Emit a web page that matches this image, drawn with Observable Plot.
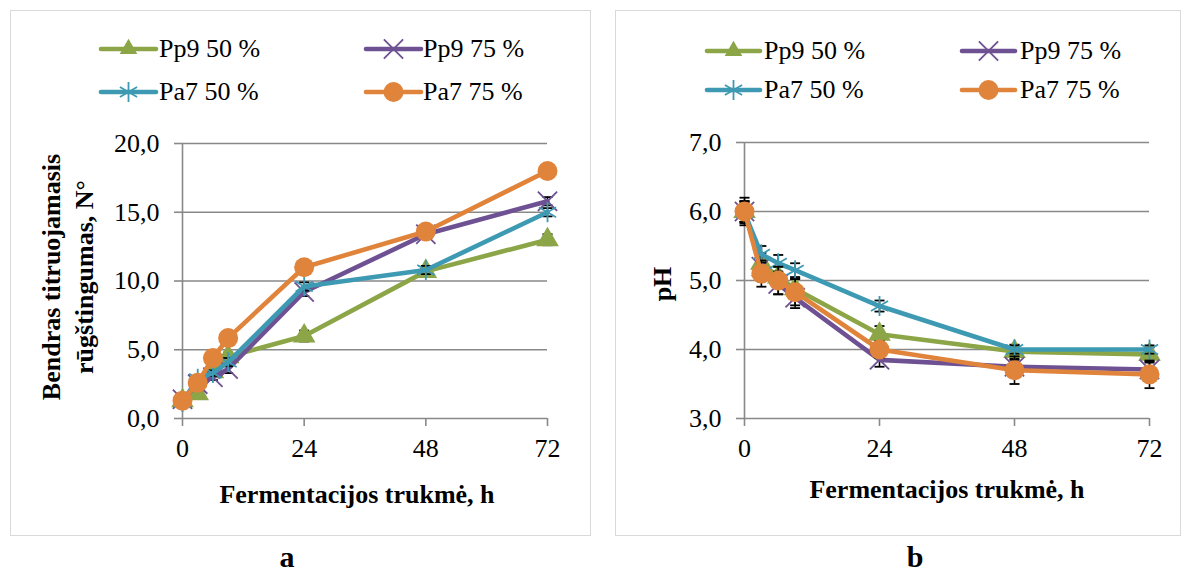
<!DOCTYPE html>
<html><head><meta charset="utf-8">
<script src="https://cdn.jsdelivr.net/npm/d3@7"></script>
<script src="https://cdn.jsdelivr.net/npm/@observablehq/plot@0.6"></script>
<style>
body{margin:0;background:#fff;font-family:"Liberation Serif","Times New Roman",serif;}
#page{position:relative;width:1183px;height:573px;overflow:hidden;background:#fff;}
.box{position:absolute;border:1.5px solid #d9d9d9;box-sizing:border-box;}
.leg{position:absolute;font-family:"Liberation Serif",serif;font-size:26px;height:30px;line-height:30px;white-space:nowrap;color:#000;}
.title{position:absolute;font-family:"Liberation Serif",serif;font-weight:bold;font-size:26px;white-space:nowrap;color:#000;transform:translate(-50%,-50%);text-align:center;line-height:33px;}
.cap{position:absolute;font-family:"Liberation Serif",serif;font-weight:bold;font-size:30px;line-height:26px;height:26px;transform:translate(-50%,-50%);color:#000;}
</style></head><body><div id="page"></div>
<script>
// ---- data ----
const hours = [0, 3, 6, 9, 24, 48, 72];
const seriesNames = ["Pp9 50 %", "Pp9 75 %", "Pa7 50 %", "Pa7 75 %"];
const seriesColors = ["#8BA547", "#6E5192", "#3E9AB3", "#E0843C"];
const seriesSymbols = ["triangle", "times", "asterisk", "circle"];

// (a) total titratable acidity, N°
const acidPp9_50 = [1.3, 1.8, 3.4, 4.5, 6.0, 10.7, 13.0];
const acidPp9_75 = [1.4, 2.5, 3.0, 3.6, 9.2, 13.4, 15.8];
const acidPa7_50 = [1.2, 2.9, 3.3, 4.1, 9.6, 10.8, 15.0];
const acidPa7_75 = [1.3, 2.6, 4.4, 5.85, 11.0, 13.6, 18.0];
const acidErrPp9_50 = [0.1, 0.2, 0.3, 0.3, 0.4, 0.3, 0.4];
const acidErrPp9_75 = [0.1, 0.2, 0.2, 0.3, 0.3, 0.3, 0.3];
const acidErrPa7_50 = [0.1, 0.2, 0.2, 0.3, 0.3, 0.3, 0.3];
const acidErrPa7_75 = [0.1, 0.2, 0.2, 0.3, 0.3, 0.3, 0.3];

// (b) pH
const phPp9_50 = [6.0, 5.25, 5.05, 4.88, 4.22, 3.97, 3.93];
const phPp9_75 = [6.0, 5.2, 4.95, 4.75, 3.85, 3.75, 3.71];
const phPa7_50 = [5.98, 5.38, 5.25, 5.15, 4.63, 4.0, 4.0];
const phPa7_75 = [6.0, 5.1, 5.0, 4.83, 4.0, 3.7, 3.64];
const phErrPp9_50 = [0.15, 0.15, 0.15, 0.15, 0.12, 0.1, 0.1];
const phErrPp9_75 = [0.15, 0.15, 0.15, 0.15, 0.1, 0.1, 0.1];
const phErrPa7_50 = [0.15, 0.12, 0.12, 0.1, 0.08, 0.06, 0.06];
const phErrPa7_75 = [0.2, 0.19, 0.2, 0.19, 0.12, 0.2, 0.2];

const xTicks = [0, 24, 48, 72];
const acidYTicks = [0, 5, 10, 15, 20];
const phYTicks = [3, 4, 5, 6, 7];

const xTitle = "Fermentacijos trukmė, h";
const acidYTitle = ["Bendras titruojamasis", "rūgštingumas, N°"];
const phYTitle = ["pH"];
const panelLetters = ["a", "b"];

// ---- helpers ----
const page = document.getElementById("page");
const fmtComma = d => d.toFixed(1).replace(".", ",");
const GRID = "#898989";
const symbolSize = {triangle: 8.4, times: 8.8, asterisk: 9.4, circle: 10};
const capSymbol = {draw(ctx) { ctx.moveTo(-5, 0); ctx.lineTo(5, 0); }};

function table(valueArrays, errArrays) {
  const rows = [];
  valueArrays.forEach((vals, s) => {
    vals.forEach((v, i) => rows.push({series: seriesNames[s], idx: s, t: hours[i], v, e: errArrays[s][i]}));
  });
  return rows;
}

function makeChart(rows, opts) {
  const marks = [
    Plot.gridY(opts.yTicks, {stroke: GRID, strokeOpacity: 1, strokeWidth: 1.6}),
    Plot.ruleX([0], {stroke: GRID, strokeWidth: 1.6}),
    Plot.axisY(opts.yTicks, {tickFormat: fmtComma, tickSize: 8, tickPadding: 15, stroke: GRID, strokeWidth: 1.6, color: "#000", fontSize: 26, label: null}),
    Plot.axisX(xTicks, {tickFormat: d => String(d), tickSize: 8, tickPadding: 12, stroke: GRID, strokeWidth: 1.6, color: "#000", fontSize: 26, label: null})
  ];
  seriesNames.forEach((name, s) => {
    const d = rows.filter(r => r.idx === s);
    const col = seriesColors[s];
    const sym = seriesSymbols[s];
    const filled = sym === "triangle" || sym === "circle";
    marks.push(
      Plot.ruleX(d, {x: "t", y1: r => r.v - r.e, y2: r => r.v + r.e, stroke: "#000", strokeWidth: 1.6}),
      Plot.dot(d, {x: "t", y: r => r.v + r.e, symbol: capSymbol, stroke: "#000", strokeWidth: 1.8, r: 3}),
      Plot.dot(d, {x: "t", y: r => r.v - r.e, symbol: capSymbol, stroke: "#000", strokeWidth: 1.8, r: 3}),
      Plot.line(d, {x: "t", y: "v", stroke: col, strokeWidth: 4.6, strokeLinejoin: "round", strokeLinecap: "round"}),
      filled
        ? Plot.dot(d, {x: "t", y: "v", symbol: sym, r: symbolSize[sym], fill: col, stroke: "none"})
        : Plot.dot(d, {x: "t", y: "v", symbol: sym, r: symbolSize[sym], stroke: col, strokeWidth: 1.8, fill: "none"})
    );
  });
  const svg = Plot.plot({
    width: opts.width, height: opts.height,
    marginLeft: opts.ml, marginRight: opts.mr, marginTop: opts.mt, marginBottom: opts.mb,
    x: {domain: [0, 72]},
    y: {domain: opts.yDomain},
    style: {fontFamily: '"Liberation Serif", "Times New Roman", serif', fontSize: "26px", background: "transparent", overflow: "visible", color: "#000"},
    marks
  });
  svg.style.position = "absolute";
  svg.style.left = opts.left + "px";
  svg.style.top = "0px";
  svg.style.maxWidth = "none";
  return svg;
}

function addDiv(cls, html, css) {
  const el = document.createElement("div");
  el.className = cls;
  el.innerHTML = html;
  Object.assign(el.style, css);
  page.appendChild(el);
  return el;
}

function legendItem(s, lineX0, lineX1, textX, cy) {
  const w = lineX1 - lineX0 + 4, h = 30;
  const sym = seriesSymbols[s], col = seriesColors[s];
  const typ = {triangle: d3.symbolTriangle2, times: d3.symbolTimes, asterisk: d3.symbolAsterisk, circle: d3.symbolCircle}[sym];
  const rr = symbolSize[sym];
  const path = d3.symbol(typ, Math.PI * rr * rr)();
  const filled = sym === "triangle" || sym === "circle";
  const symEl = filled
    ? `<path d="${path}" transform="translate(${w / 2},${h / 2})" fill="${col}"/>`
    : `<path d="${path}" transform="translate(${w / 2},${h / 2})" fill="none" stroke="${col}" stroke-width="1.8"/>`;
  const svg = `<svg width="${w}" height="${h}" style="position:absolute;left:${lineX0 - 2}px;top:${cy - h / 2}px;overflow:visible">
    <line x1="2" x2="${w - 2}" y1="${h / 2}" y2="${h / 2}" stroke="${col}" stroke-width="4.6" stroke-linecap="round"/>${symEl}</svg>`;
  page.insertAdjacentHTML("beforeend", svg);
  addDiv("leg", seriesNames[s], {left: textX + "px", top: (cy - 15) + "px"});
}

// ---- panel a ----
const acidRows = table([acidPp9_50, acidPp9_75, acidPa7_50, acidPa7_75], [acidErrPp9_50, acidErrPp9_75, acidErrPa7_50, acidErrPa7_75]);
page.appendChild(makeChart(acidRows, {width: 590, height: 540, left: 0, ml: 182, mr: 43, mt: 143, mb: 122, yDomain: [0, 20], yTicks: acidYTicks}));

// ---- panel b ----
const phRows = table([phPp9_50, phPp9_75, phPa7_50, phPa7_75], [phErrPp9_50, phErrPp9_75, phErrPa7_50, phErrPa7_75]);
page.appendChild(makeChart(phRows, {width: 573, height: 540, left: 610, ml: 134, mr: 34, mt: 142, mb: 122, yDomain: [3, 7], yTicks: phYTicks}));

// panel borders
addDiv("box", "", {left: "10px", top: "10px", width: "581px", height: "526px"});
addDiv("box", "", {left: "615px", top: "10px", width: "566px", height: "526px"});

// legends
legendItem(0, 101, 156, 159, 49);
legendItem(1, 366, 421, 423, 49);
legendItem(2, 101, 156, 159, 92);
legendItem(3, 366, 421, 423, 92);
legendItem(0, 707, 760, 764, 51);
legendItem(1, 962, 1015, 1020, 51);
legendItem(2, 707, 760, 764, 90);
legendItem(3, 962, 1015, 1020, 90);

// axis titles
addDiv("title", xTitle, {left: "357px", top: "494px"});
addDiv("title", xTitle, {left: "947px", top: "489px"});
addDiv("title", acidYTitle.join("<br>"), {left: "68px", top: "277px", transform: "translate(-50%,-50%) rotate(-90deg)"});
addDiv("title", phYTitle.join("<br>"), {left: "662px", top: "284px", transform: "translate(-50%,-50%) rotate(-90deg)"});

// panel letters
addDiv("cap", panelLetters[0], {left: "287px", top: "557px"});
addDiv("cap", panelLetters[1], {left: "915px", top: "557px"});
</script></body></html>
